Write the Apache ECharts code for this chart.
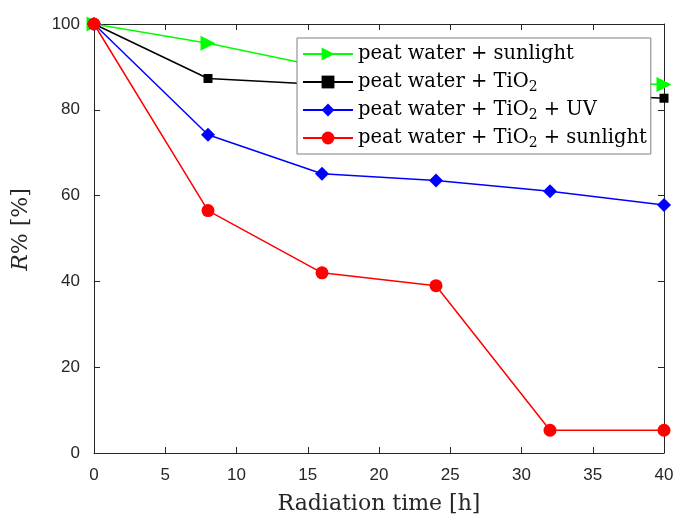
<!DOCTYPE html>
<html><head><meta charset="utf-8">
<script src="https://cdn.jsdelivr.net/npm/echarts@6/dist/echarts.min.js"></script>
<style>html,body{margin:0;padding:0;background:#fff}#c{width:678px;height:520px}</style>
</head><body><div id="c"></div>
<script>
const times = [0, 8, 16, 24, 32, 40];
const names = ["peat water + sunlight", "peat water + TiO2", "peat water + TiO2 + UV", "peat water + TiO2 + sunlight"];
const sunlight = [100, 95.5, 90.0, 88.0, 86.7, 85.9];
const tio2 = [100, 87.3, 85.9, 85.0, 84.0, 82.7];
const tio2uv = [100, 74.2, 65.1, 63.5, 61.0, 57.8];
const tio2sun = [100, 56.5, 42.0, 39.0, 5.3, 5.3];

const axisCol = '#262626';
const serif = 'DejaVu Serif';
function mk(name, vals, color, symbol, size, rot) {
  return {
    name: name, type: 'line', data: times.map((t, i) => [t, vals[i]]),
    symbol: symbol, symbolSize: size, symbolRotate: rot || 0, showSymbol: true,
    lineStyle: {color: color, width: 1.5}, itemStyle: {color: color},
    animation: false
  };
}
const chart = echarts.init(document.getElementById('c'));
function ax(extra) {
  return Object.assign({
    axisLine: {show: true, onZero: false, lineStyle: {color: axisCol, width: 1}},
    axisTick: {show: true, inside: true, length: 6, lineStyle: {color: axisCol}},
    splitLine: {show: false}
  }, extra);
}
chart.setOption({
  animation: false,
  grid: {left: 94, right: 14, top: 24, bottom: 66, containLabel: false},
  legend: {
    orient: 'vertical', left: 297, top: 38,
    backgroundColor: '#fff', borderColor: '#808080', borderWidth: 1,
    padding: [4, 4, 4, 5], itemWidth: 50, itemHeight: 16, itemGap: 4,
    formatter: function (n) { return n.replace(/TiO2/g, 'TiO{sub|2}'); },
    textStyle: {
      fontFamily: serif, fontSize: 19.5, color: '#000', lineHeight: 24,
      rich: {sub: {fontFamily: serif, fontSize: 14, lineHeight: 24, verticalAlign: 'bottom'}}
    }
  },
  xAxis: [
    ax({
      type: 'value', min: 0, max: 40, interval: 5,
      name: 'Radiation time [h]', nameLocation: 'middle', nameGap: 40,
      nameTextStyle: {fontFamily: serif, fontSize: 22, color: axisCol},
      axisLabel: {fontFamily: 'Liberation Sans', fontSize: 17, color: axisCol, margin: 14}
    }),
    ax({type: 'value', min: 0, max: 40, interval: 5, position: 'top', axisLabel: {show: false}})
  ],
  yAxis: [
    ax({
      type: 'value', min: 0, max: 100, interval: 20,
      name: '{i|R}% [%]', nameLocation: 'middle', nameGap: 62,
      nameTextStyle: {fontFamily: serif, fontSize: 22, color: axisCol, padding: [0, 0, 0, 18],
        rich: {i: {fontFamily: serif, fontStyle: 'italic', fontSize: 22, color: axisCol}}},
      axisLabel: {fontFamily: 'Liberation Sans', fontSize: 17, color: axisCol, margin: 14}
    }),
    ax({type: 'value', min: 0, max: 100, interval: 20, position: 'right', axisLabel: {show: false}})
  ],
  series: [
    mk(names[0], sunlight, '#00ff00', 'triangle', 15, -90),
    mk(names[1], tio2, '#000000', 'rect', 9),
    mk(names[2], tio2uv, '#0000ff', 'diamond', 14),
    mk(names[3], tio2sun, '#ff0000', 'circle', 13)
  ]
});
</script>
</body></html>
